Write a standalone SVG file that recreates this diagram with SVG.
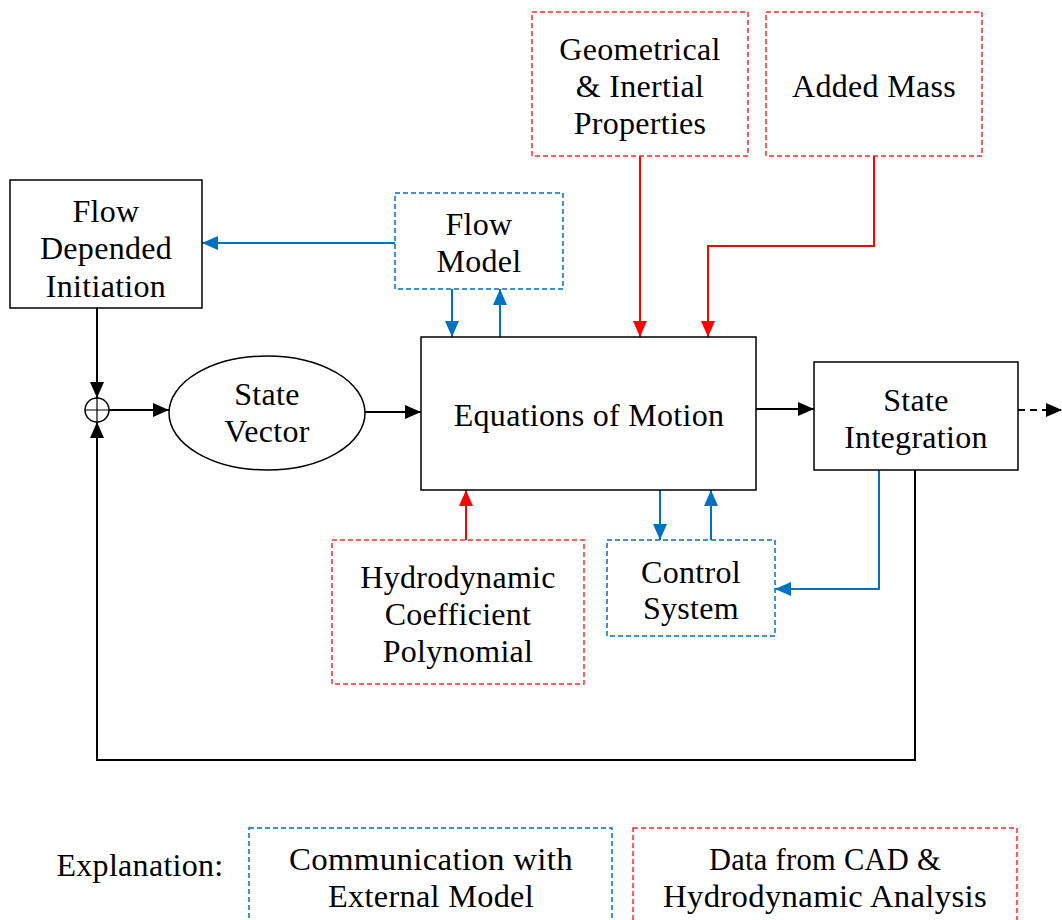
<svg xmlns="http://www.w3.org/2000/svg" width="1062" height="920" viewBox="0 0 1062 920">
  <style>
    .t { font-family: "Liberation Serif", "DejaVu Serif", serif; font-size: 32px; letter-spacing: 0.3px; fill: #000; text-anchor: middle; }
    .solid { fill: #fff; stroke: #000; stroke-width: 1.5; }
    .ext { fill: #fff; stroke: #0070C0; stroke-width: 1.5; stroke-dasharray: 5 3; }
    .cad { fill: #fff; stroke: #FF2A2A; stroke-width: 1.5; stroke-dasharray: 5 3; }
    .k { fill: none; stroke: #000; stroke-width: 2; }
    .b { fill: none; stroke: #0070C0; stroke-width: 2; }
    .r { fill: none; stroke: #FF0000; stroke-width: 2; }
  </style>
  <defs>
    <marker id="ak" viewBox="0 0 16 14" refX="16" refY="7" markerWidth="16" markerHeight="14" markerUnits="userSpaceOnUse" orient="auto">
      <path d="M0,0 L16,7 L0,14 Z" fill="#000"/>
    </marker>
    <marker id="ab" viewBox="0 0 16 14" refX="16" refY="7" markerWidth="16" markerHeight="14" markerUnits="userSpaceOnUse" orient="auto">
      <path d="M0,0 L16,7 L0,14 Z" fill="#0070C0"/>
    </marker>
    <marker id="ar" viewBox="0 0 16 14" refX="16" refY="7" markerWidth="16" markerHeight="14" markerUnits="userSpaceOnUse" orient="auto">
      <path d="M0,0 L16,7 L0,14 Z" fill="#FF0000"/>
    </marker>
  </defs>

  <!-- connectors -->
  <g id="connectors">
    <!-- flow model feeds initiation -->
    <path class="b" d="M395,243 H202" marker-end="url(#ab)"/>
    <!-- flow model <-> equations of motion -->
    <path class="b" d="M452,289 V337" marker-end="url(#ab)"/>
    <path class="b" d="M500,337 V289" marker-end="url(#ab)"/>
    <!-- CAD data into equations of motion -->
    <path class="r" d="M640,156 V337" marker-end="url(#ar)"/>
    <path class="r" d="M874,156 V246 H708 V337" marker-end="url(#ar)"/>
    <path class="r" d="M466,540 V490" marker-end="url(#ar)"/>
    <!-- control system loop -->
    <path class="b" d="M660,490 V540" marker-end="url(#ab)"/>
    <path class="b" d="M711,540 V490" marker-end="url(#ab)"/>
    <path class="b" d="M879,470 V589 H775" marker-end="url(#ab)"/>
    <!-- main signal path -->
    <path class="k" d="M97,308 V398" marker-end="url(#ak)"/>
    <path class="k" d="M109,410 H169" marker-end="url(#ak)"/>
    <path class="k" d="M365,412 H421" marker-end="url(#ak)"/>
    <path class="k" d="M756,409 H814" marker-end="url(#ak)"/>
    <path class="k" d="M1018,410 H1062" stroke-dasharray="7 5" marker-end="url(#ak)"/>
    <!-- feedback from integration back to the summing point -->
    <path class="k" d="M915,470 V760 H97 V422" marker-end="url(#ak)"/>
  </g>

  <g id="sum">
    <circle cx="97" cy="410" r="12" fill="#fff" stroke="#000" stroke-width="1.5"/>
    <path d="M85,410 H109 M97,398 V422" stroke="#000" stroke-width="1.2"/>
  </g>

  <g id="flow-init">
    <rect class="solid" x="10" y="180" width="192" height="128"/>
    <text class="t" x="106" y="222">Flow</text>
    <text class="t" x="106" y="259">Depended</text>
    <text class="t" x="106" y="297">Initiation</text>
  </g>

  <g id="flow-model">
    <rect class="ext" x="395" y="193" width="168" height="96"/>
    <text class="t" x="479" y="235">Flow</text>
    <text class="t" x="479" y="272">Model</text>
  </g>

  <g id="geometry">
    <rect class="cad" x="532" y="12" width="216" height="144"/>
    <text class="t" x="640" y="60">Geometrical</text>
    <text class="t" x="640" y="97">&amp; Inertial</text>
    <text class="t" x="640" y="134">Properties</text>
  </g>

  <g id="added-mass">
    <rect class="cad" x="766" y="12" width="216" height="144"/>
    <text class="t" x="874" y="97">Added Mass</text>
  </g>

  <g id="state-vector">
    <ellipse cx="267" cy="413" rx="98" ry="57" fill="#fff" stroke="#000" stroke-width="1.5"/>
    <text class="t" x="267" y="405">State</text>
    <text class="t" x="267" y="442">Vector</text>
  </g>

  <g id="eom">
    <rect class="solid" x="421" y="337" width="335" height="153"/>
    <text class="t" x="589" y="426">Equations of Motion</text>
  </g>

  <g id="integration">
    <rect class="solid" x="814" y="362" width="204" height="108"/>
    <text class="t" x="916" y="411">State</text>
    <text class="t" x="916" y="448">Integration</text>
  </g>

  <g id="hydro">
    <rect class="cad" x="332" y="540" width="252" height="144"/>
    <text class="t" x="458" y="588">Hydrodynamic</text>
    <text class="t" x="458" y="625">Coefficient</text>
    <text class="t" x="458" y="662">Polynomial</text>
  </g>

  <g id="control">
    <rect class="ext" x="607" y="540" width="168" height="96"/>
    <text class="t" x="691" y="583">Control</text>
    <text class="t" x="691" y="619">System</text>
  </g>

  <g id="legend">
    <text class="t" x="140" y="876">Explanation:</text>
    <rect class="ext" x="249" y="828" width="363" height="110"/>
    <text class="t" x="431" y="870" textLength="284" lengthAdjust="spacingAndGlyphs">Communication with</text>
    <text class="t" x="431" y="907" textLength="206" lengthAdjust="spacingAndGlyphs">External Model</text>
    <rect class="cad" x="633" y="828" width="384" height="110"/>
    <text class="t" x="825" y="870" textLength="232" lengthAdjust="spacingAndGlyphs">Data from CAD &amp;</text>
    <text class="t" x="825" y="907" textLength="324" lengthAdjust="spacingAndGlyphs">Hydrodynamic Analysis</text>
  </g>
</svg>
